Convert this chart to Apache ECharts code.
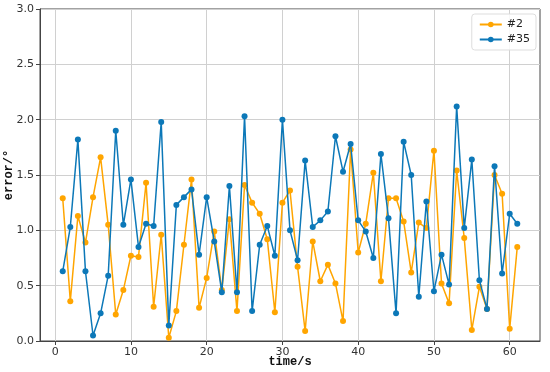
<!DOCTYPE html>
<html><head><meta charset="utf-8">
<script src="https://cdn.jsdelivr.net/npm/echarts@6/dist/echarts.min.js"></script>
<style>html,body{margin:0;padding:0;background:#fff}#c{width:550px;height:372px}</style>
</head><body><div id="c"></div>
<script>
const timeX = [1,2,3,4,5,6,7,8,9,10,11,12,13,14,15,16,17,18,19,20,21,22,23,24,25,26,27,28,29,30,31,32,33,34,35,36,37,38,39,40,41,42,43,44,45,46,47,48,49,50,51,52,53,54,55,56,57,58,59,60,61];
const s2 = [1.29,0.36,1.13,0.89,1.30,1.66,1.05,0.24,0.46,0.77,0.76,1.43,0.31,0.96,0.03,0.27,0.87,1.46,0.30,0.57,0.99,0.46,1.10,0.27,1.41,1.25,1.15,0.92,0.26,1.25,1.36,0.67,0.09,0.90,0.54,0.69,0.52,0.18,1.73,0.80,1.06,1.52,0.54,1.29,1.29,1.08,0.62,1.07,1.02,1.72,0.52,0.34,1.54,0.93,0.10,0.49,0.29,1.50,1.33,0.11,0.85];
const s35 = [0.63,1.03,1.82,0.63,0.05,0.25,0.59,1.90,1.05,1.46,0.85,1.06,1.04,1.98,0.14,1.23,1.30,1.37,0.78,1.30,0.90,0.44,1.40,0.44,2.03,0.27,0.87,1.04,0.77,2.00,1.00,0.73,1.63,1.03,1.09,1.17,1.85,1.53,1.78,1.09,0.99,0.75,1.69,1.11,0.25,1.80,1.50,0.40,1.26,0.45,0.78,0.51,2.12,1.02,1.64,0.55,0.29,1.58,0.61,1.15,1.06];
const xTicks = [0,10,20,30,40,50,60];
const names = ['#2','#35'];
const colors = ['#FFA500','#0C78B8'];

const chart = echarts.init(document.getElementById('c'));
const mk = (arr) => timeX.map((x,i)=>[x,arr[i]]);
chart.setOption({
  animation:false,
  grid:{left:40,right:10,top:9,bottom:31,show:true,borderColor:'#444',borderWidth:1,outerBoundsMode:'none',containLabel:false},
  legend:{
    right:14, top:14, orient:'vertical', data:names,
    itemWidth:22, itemHeight:7, itemGap:4,
    backgroundColor:'rgba(255,255,255,0.85)', borderColor:'#ddd', borderWidth:1, borderRadius:3,
    padding:[5,6,5,7],
    textStyle:{fontFamily:'DejaVu Sans',fontSize:11,color:'#222'}
  },
  xAxis:{
    type:'value', min:-2, max:64,
    name:'time/s', nameLocation:'middle', nameGap:15, nameMoveOverlap:false,
    nameTextStyle:{fontFamily:'Liberation Mono',fontWeight:'bold',fontSize:12,color:'#111'},
    axisLine:{show:true,onZero:false,lineStyle:{color:'#444'}},
    axisTick:{show:true,length:4,customValues:xTicks,lineStyle:{color:'#444'}},
    axisLabel:{customValues:xTicks,fontFamily:'DejaVu Sans',fontSize:11,color:'#333',margin:6},
    splitLine:{show:false}
  },
  yAxis:{
    type:'value', min:0, max:3, interval:0.5,
    name:'error/°', nameLocation:'middle', nameGap:25, nameRotate:90, nameMoveOverlap:false,
    nameTextStyle:{fontFamily:'Liberation Mono',fontWeight:'bold',fontSize:12,color:'#111'},
    axisLine:{show:true,onZero:false,lineStyle:{color:'#444'}},
    axisTick:{show:true,length:4,lineStyle:{color:'#444'}},
    axisLabel:{formatter:v=>v.toFixed(1),fontFamily:'DejaVu Sans',fontSize:11,color:'#333',margin:6},
    splitLine:{show:true,lineStyle:{color:'#d0d0d0',width:1}}
  },
  series:[
    {name:'grid',type:'line',data:[],silent:true,z:0,
     markLine:{silent:true,symbol:'none',label:{show:false},animation:false,z:0,
       lineStyle:{color:'#d0d0d0',width:1,type:'solid'},
       data:xTicks.map(v=>({xAxis:v}))}},
    {name:names[0],type:'line',data:mk(s2),symbol:'circle',symbolSize:6,showAllSymbol:true,
     itemStyle:{color:colors[0]},lineStyle:{color:colors[0],width:1.5},z:2},
    {name:names[1],type:'line',data:mk(s35),symbol:'circle',symbolSize:6,showAllSymbol:true,
     itemStyle:{color:colors[1]},lineStyle:{color:colors[1],width:1.5},z:3}
  ]
});
</script></body></html>
